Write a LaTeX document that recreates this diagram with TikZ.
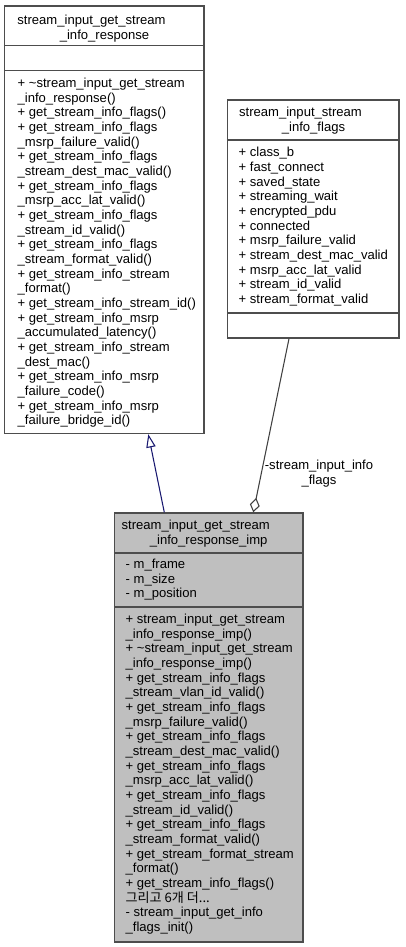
\documentclass[tikz,border=0pt]{standalone}
\usepackage{fontspec}
\setmainfont{Liberation Sans}
\newfontfamily\krfont{Noto Sans CJK KR}
\usetikzlibrary{arrows.meta, fit}
\definecolor{cnavy}{HTML}{191970}
\definecolor{cedge}{HTML}{404040}
\definecolor{cframe}{HTML}{4D4D4D}
\definecolor{cfill}{HTML}{BFBFBF}
\tikzset{
  every picture/.style={x=0.75pt, y=-0.75pt, line width=1pt},
  classbox/.style={draw=cframe, fill=#1, inner sep=0pt, line width=1pt},
  classbox/.default=white,
  members/.style={anchor=north west, align=left, inner sep=0pt, font=\fontsize{9.8pt}{11pt}\selectfont},
  title/.style={anchor=north, align=center, inner sep=0pt, font=\fontsize{9.8pt}{11pt}\selectfont},
  divider/.style={draw=cframe, line width=1pt},
  inherit/.style={{Triangle[open, length=10pt, width=7pt]}-, draw=cnavy, line width=0.8pt},
  usage/.style={{Diamond[open, length=11pt, width=7.5pt]}-, draw=cedge, line width=0.8pt},
}

\begin{document}
\begin{tikzpicture}
  \useasboundingbox (0,0) rectangle (405,947);
  % ---- base class
  \node[classbox, fit={(4.5,6) (204,433.5)}] (base) {};
  \draw[divider] (base.west |- 0,45.5) -- (base.east |- 0,45.5);
  \draw[divider] (base.west |- 0,70.7) -- (base.east |- 0,70.7);
  \node[title] (baseT) at (104.5,13.7) {\strut stream\_input\_get\_stream\rule{19.5pt}{0pt}\\\_info\_response};
  \node[members] (baseM) at (17,76.7) {\strut + \textasciitilde stream\_input\_get\_stream\\
    \_info\_response()\\
    + get\_stream\_info\_flags()\\
    + get\_stream\_info\_flags\\
    \_msrp\_failure\_valid()\\
    + get\_stream\_info\_flags\\
    \_stream\_dest\_mac\_valid()\\
    + get\_stream\_info\_flags\\
    \_msrp\_acc\_lat\_valid()\\
    + get\_stream\_info\_flags\\
    \_stream\_id\_valid()\\
    + get\_stream\_info\_flags\\
    \_stream\_format\_valid()\\
    + get\_stream\_info\_stream\\
    \_format()\\
    + get\_stream\_info\_stream\_id()\\
    + get\_stream\_info\_msrp\\
    \_accumulated\_latency()\\
    + get\_stream\_info\_stream\\
    \_dest\_mac()\\
    + get\_stream\_info\_msrp\\
    \_failure\_code()\\
    + get\_stream\_info\_msrp\\
    \_failure\_bridge\_id()};
  % ---- flags struct
  \node[classbox, fit={(227.5,100) (399,338)}] (flags) {};
  \draw[divider] (flags.west |- 0,140) -- (flags.east |- 0,140);
  \draw[divider] (flags.west |- 0,313) -- (flags.east |- 0,313);
  \node[title] (flagsT) at (313.5,105.7) {\strut stream\_input\_stream\rule{19.5pt}{0pt}\\\_info\_flags};
  \node[members] (flagsA) at (238,146) {\strut + class\_b\\
    + fast\_connect\\
    + saved\_state\\
    + streaming\_wait\\
    + encrypted\_pdu\\
    + connected\\
    + msrp\_failure\_valid\\
    + stream\_dest\_mac\_valid\\
    + msrp\_acc\_lat\_valid\\
    + stream\_id\_valid\\
    + stream\_format\_valid};
  % ---- implementation class
  \node[classbox=cfill, fit={(114.5,513) (303,942)}] (imp) {};
  \draw[divider] (imp.west |- 0,553) -- (imp.east |- 0,553);
  \draw[divider] (imp.west |- 0,607) -- (imp.east |- 0,607);
  \node[title] (impT) at (208.7,518.7) {\strut stream\_input\_get\_stream\rule{19.5pt}{0pt}\\\_info\_response\_imp};
  \node[members] (impA) at (125,557.7) {\strut - m\_frame\\
    - m\_size\\
    - m\_position};
  \node[members] (impM) at (125,612.7) {\strut + stream\_input\_get\_stream\\
    \_info\_response\_imp()\\
    + \textasciitilde stream\_input\_get\_stream\\
    \_info\_response\_imp()\\
    + get\_stream\_info\_flags\\
    \_stream\_vlan\_id\_valid()\\
    + get\_stream\_info\_flags\\
    \_msrp\_failure\_valid()\\
    + get\_stream\_info\_flags\\
    \_stream\_dest\_mac\_valid()\\
    + get\_stream\_info\_flags\\
    \_msrp\_acc\_lat\_valid()\\
    + get\_stream\_info\_flags\\
    \_stream\_id\_valid()\\
    + get\_stream\_info\_flags\\
    \_stream\_format\_valid()\\
    + get\_stream\_format\_stream\\
    \_format()\\
    + get\_stream\_info\_flags()\\
    {\krfont 그리고 6개 더...}\\
    - stream\_input\_get\_info\\
    \_flags\_init()};
  % ---- relations
  \draw[inherit] (148.3,0 |- base.south) -- (164.3,0 |- imp.north);
  \draw[usage] (253.3,0 |- imp.north) -- (289,0 |- flags.south);
  \node[title] (usageL) at (319,458.7) {\strut -stream\_input\_info\\\_flags};
\end{tikzpicture}
\end{document}
